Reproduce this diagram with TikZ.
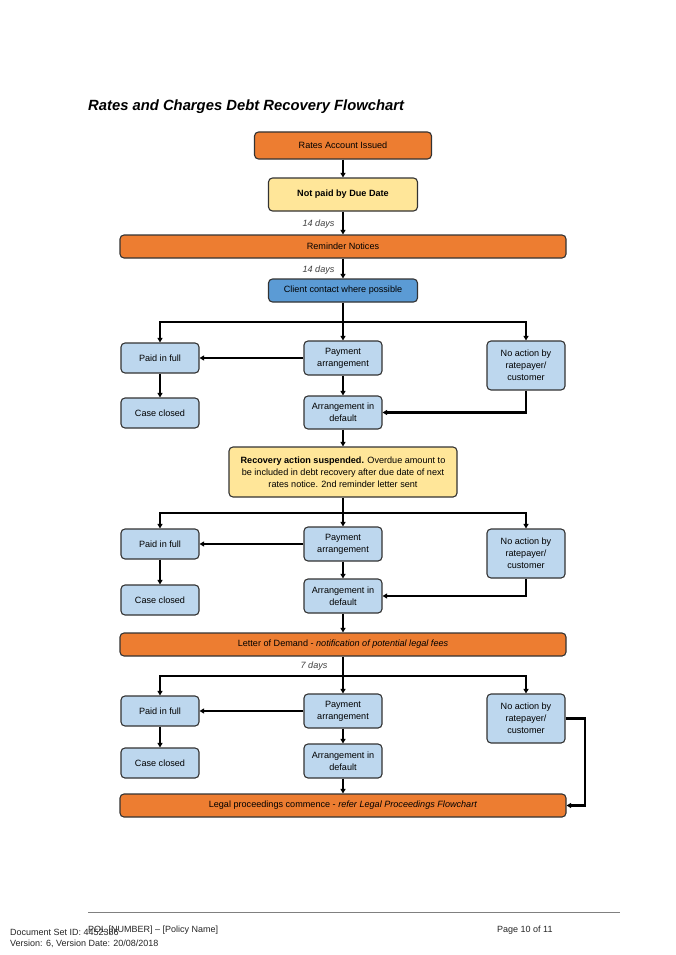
\documentclass[tikz,border=0pt]{standalone}
\usepackage{fontspec}
\setmainfont{Liberation Sans}
\usetikzlibrary{arrows.meta}
\definecolor{orangefill}{HTML}{ED7D31}
\definecolor{yellowfill}{HTML}{FFE699}
\definecolor{bluefill}{HTML}{BDD7EE}
\definecolor{darkblue}{HTML}{5B9BD5}
\definecolor{boxline}{HTML}{333333}
\definecolor{daysgray}{HTML}{404040}
\tikzset{
  basebox/.style={draw=boxline, line width=1.1pt, rounded corners=4pt, align=center, inner sep=1pt,
    font=\fontsize{9.1}{12}\selectfont, text=black},
  orangebox/.style={basebox, fill=orangefill},
  yellowbox/.style={basebox, fill=yellowfill},
  bluebox/.style={basebox, fill=bluefill},
  dbluebox/.style={basebox, fill=darkblue},
  conn/.style={line width=2.1pt, black},
  arr/.style={conn, -{Triangle[length=4.5pt,width=5pt]}},
  days/.style={font=\fontsize{9.1}{10}\selectfont\itshape, text=daysgray, anchor=east},
  foot/.style={font=\fontsize{9}{10}\selectfont, text=black!85, anchor=base west, inner sep=0pt}
}
\begin{document}
\begin{tikzpicture}[x=1pt,y=-1pt]
\useasboundingbox (0,0) rectangle (675,955);
\fill[white] (0,0) rectangle (675,955);
% title
\node[anchor=base west, inner sep=0pt, font=\fontsize{14.8}{17}\selectfont\bfseries\itshape] (title) at (88,111) {Rates and Charges Debt Recovery Flowchart};

% top chain
\node[orangebox, minimum width=177pt, minimum height=27pt] (rai) at (343,145.5) {Rates Account Issued};
\node[yellowbox, minimum width=149pt, minimum height=33pt, font=\fontsize{9.1}{12}\selectfont\bfseries] (npd) at (343,194.5) {Not paid by Due Date};
\node[orangebox, minimum width=446pt, minimum height=23pt] (rn) at (343,246.5) {Reminder Notices};
\node[dbluebox, minimum width=149pt, minimum height=23pt] (cc) at (343,290.5) {Client contact where possible};
\node[days] (d1) at (338,224) {14 days};
\node[days] (d2) at (338,270) {14 days};
\draw[arr] (rai) -- (npd);
\draw[arr] (npd) -- (rn);
\draw[arr] (rn) -- (cc);

% block 1
\node[bluebox, minimum width=78pt, minimum height=30pt] (pif1) at (160,358) {Paid in full};
\node[bluebox, minimum width=78pt, minimum height=34pt] (pa1) at (343,358) {Payment\\arrangement};
\node[bluebox, minimum width=78pt, minimum height=49pt] (na1) at (526,365.5) {No action by\\ratepayer/\\customer};
\node[bluebox, minimum width=78pt, minimum height=30pt] (cc1) at (160,413) {Case closed};
\node[bluebox, minimum width=78pt, minimum height=33pt] (aid1) at (343,412.5) {Arrangement in\\default};
\coordinate (b1) at (343,322);
\draw[arr] (b1) -| (pif1.north);
\draw[arr] (b1) -| (na1.north);
\draw[arr] (cc) -- (pa1);
\draw[arr] (pa1.west) -- (pif1.east);
\draw[arr] (pif1) -- (cc1);
\draw[arr] (pa1) -- (aid1);
\draw[arr] (na1.south) |- (aid1.east);

% recovery suspended
\node[yellowbox, minimum width=228pt, minimum height=50pt] (ras) at (343,472) {\textbf{Recovery action suspended.} Overdue amount to\\be included in debt recovery after due date of next\\rates notice. 2nd reminder letter sent};
\draw[arr] (aid1) -- (ras);

% block 2
\node[bluebox, minimum width=78pt, minimum height=30pt] (pif2) at (160,544) {Paid in full};
\node[bluebox, minimum width=78pt, minimum height=34pt] (pa2) at (343,544) {Payment\\arrangement};
\node[bluebox, minimum width=78pt, minimum height=49pt] (na2) at (526,553.5) {No action by\\ratepayer/\\customer};
\node[bluebox, minimum width=78pt, minimum height=30pt] (cc2) at (160,600) {Case closed};
\node[bluebox, minimum width=78pt, minimum height=34pt] (aid2) at (343,596) {Arrangement in\\default};
\coordinate (b2) at (343,513);
\draw[arr] (b2) -| (pif2.north);
\draw[arr] (b2) -| (na2.north);
\draw[arr] (ras) -- (pa2);
\draw[arr] (pa2.west) -- (pif2.east);
\draw[arr] (pif2) -- (cc2);
\draw[arr] (pa2) -- (aid2);
\draw[arr] (na2.south) |- (aid2.east);

% letter of demand
\node[orangebox, minimum width=446pt, minimum height=23pt] (lod) at (343,644.5) {Letter of Demand - \textit{notification of potential legal fees}};
\draw[arr] (aid2) -- (lod);
\node[days] (d3) at (331,666) {7 days};

% block 3
\node[bluebox, minimum width=78pt, minimum height=30pt] (pif3) at (160,711) {Paid in full};
\node[bluebox, minimum width=78pt, minimum height=34pt] (pa3) at (343,711) {Payment\\arrangement};
\node[bluebox, minimum width=78pt, minimum height=49pt] (na3) at (526,718.5) {No action by\\ratepayer/\\customer};
\node[bluebox, minimum width=78pt, minimum height=30pt] (cc3) at (160,763) {Case closed};
\node[bluebox, minimum width=78pt, minimum height=34pt] (aid3) at (343,761) {Arrangement in\\default};
\coordinate (b3) at (343,676);
\draw[arr] (b3) -| (pif3.north);
\draw[arr] (b3) -| (na3.north);
\draw[arr] (lod) -- (pa3);
\draw[arr] (pa3.west) -- (pif3.east);
\draw[arr] (pif3) -- (cc3);
\draw[arr] (pa3) -- (aid3);

% legal proceedings
\node[orangebox, minimum width=446pt, minimum height=23pt] (lp) at (343,805.5) {Legal proceedings commence - \textit{refer Legal Proceedings Flowchart}};
\draw[arr] (aid3) -- (lp);
\coordinate (c3) at (585,718.5);
\draw[arr] (na3.east) -- (c3) |- (lp.east);

% footer
\draw[line width=0.8pt, black!50] (88,912) -- (620,912);
\node[foot] (f1) at (88,932) {POL [NUMBER] -- [Policy Name]};
\node[foot] (f2) at (10,935) {Document Set ID: 4452386};
\node[foot] (f3) at (10,946) {Version: 6, Version Date: 20/08/2018};
\node[foot] (f4) at (497,932) {Page 10 of 11};
\end{tikzpicture}
\end{document}
